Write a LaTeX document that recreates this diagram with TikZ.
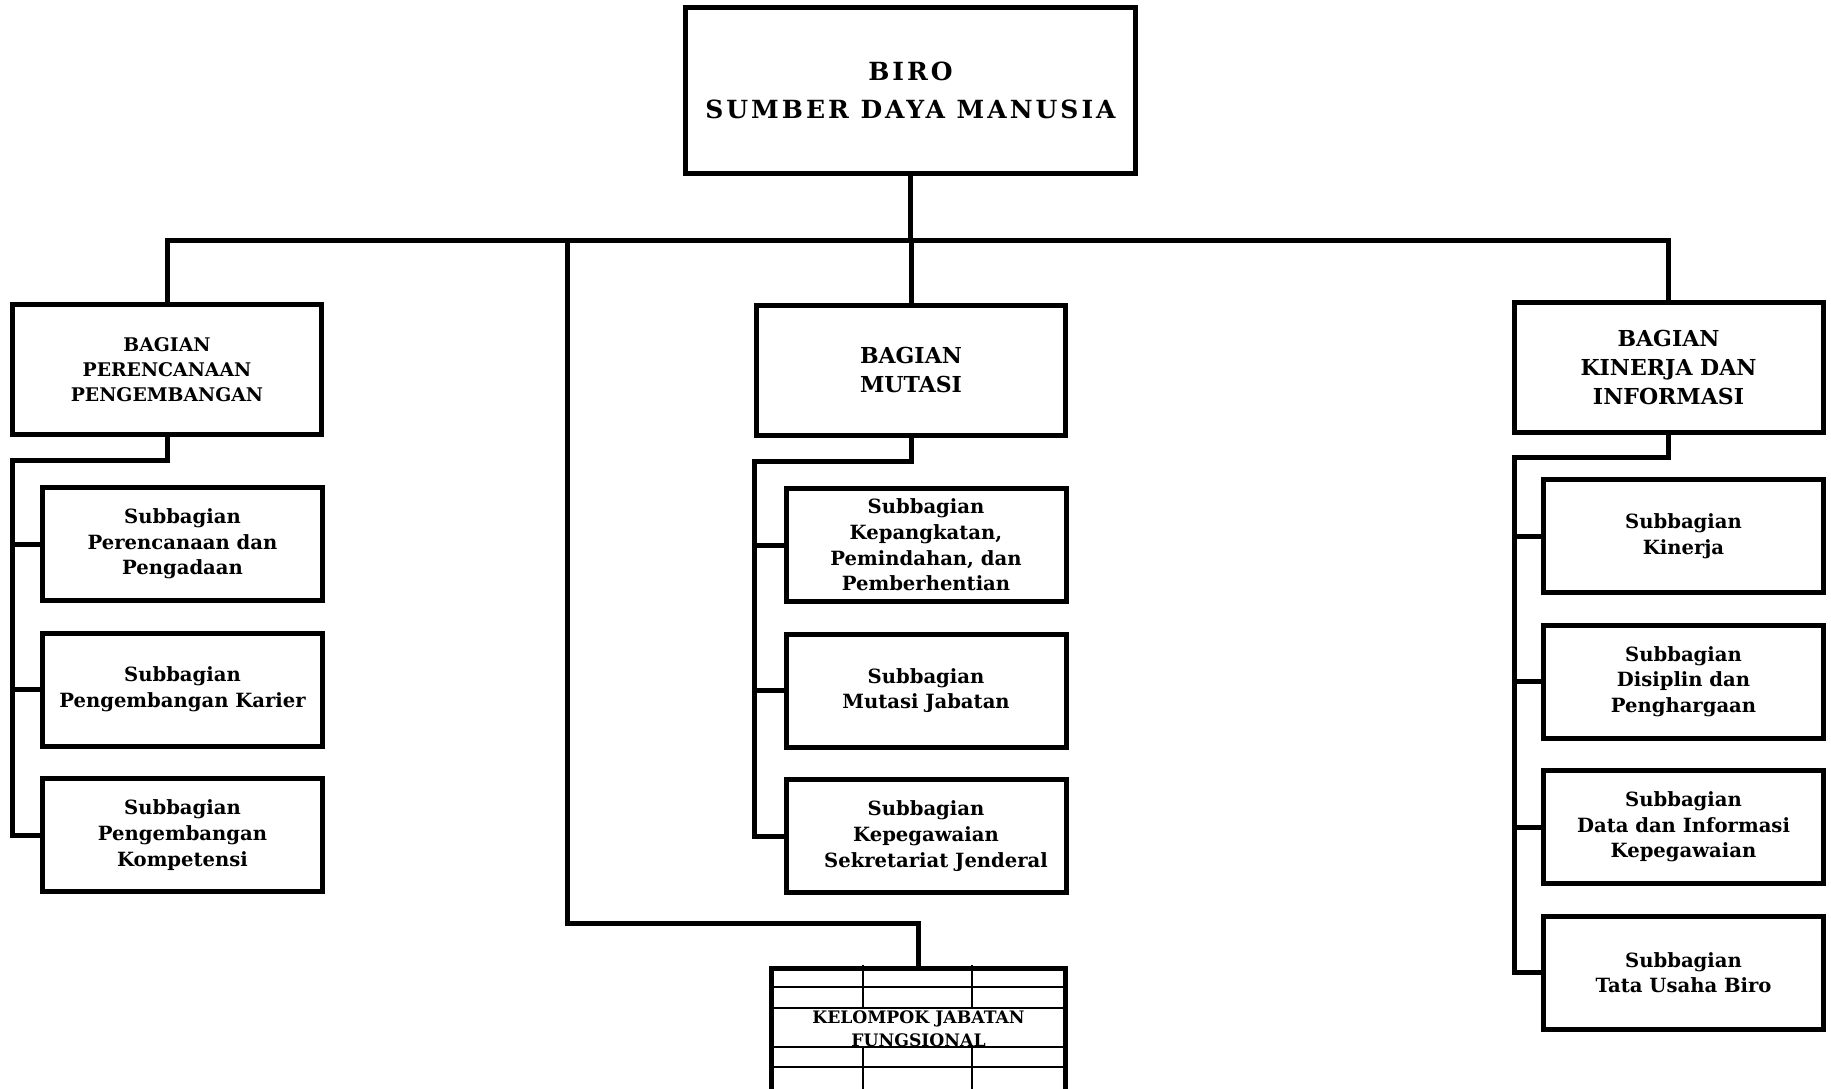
\documentclass[tikz,border=0pt]{standalone}
\usepackage{fontspec}
\setmainfont{DejaVu Serif}
\usetikzlibrary{positioning}

\begin{document}
\begin{tikzpicture}[
    x=0.5pt, y=-0.5pt,
    node distance=72.75pt,
    on grid,
    biro/.style={
        draw,
        line width=2.5pt,
        minimum width=225pt,
        minimum height=83pt,
        align=center,
        font=\bfseries\fontsize{12.5}{19}\selectfont\addfontfeatures{LetterSpace=12}
    },
    bagian/.style={
        draw,
        line width=2.5pt,
        minimum width=154.5pt,
        minimum height=65pt,
        align=center,
        font=\bfseries\fontsize{11}{14.5}\selectfont
    },
    bagiankecil/.style={
        bagian,
        font=\bfseries\fontsize{9.4}{12.5}\selectfont
    },
    subbag/.style={
        draw,
        line width=2.5pt,
        minimum width=140pt,
        minimum height=56.5pt,
        align=center,
        font=\bfseries\fontsize{9.8}{12.8}\selectfont
    },
    conn/.style={
        line width=2.5pt,
        line join=miter
    },
    garis/.style={
        line width=1pt
    }
    ]
    \useasboundingbox (0,0) rectangle (1831,1088);
    % Biro
    \node[biro] (biro) at (910.5,90.5) {BIRO\\SUMBER DAYA MANUSIA};
    % Bagian
    \node[bagiankecil] (pp) at (167,369.5) {BAGIAN\\PERENCANAAN\\PENGEMBANGAN};
    \node[bagian] (mt) at (911,370) {BAGIAN\\MUTASI};
    \node[bagian] (ki) at (1668.5,367.5) {BAGIAN\\KINERJA DAN\\INFORMASI};
    % Subbagian
    \node[subbag] (pp1) at (182.5,544) {Subbagian\\Perencanaan dan\\Pengadaan};
    \node[subbag] (pp2) [below=of pp1] {Subbagian\\Pengembangan Karier};
    \node[subbag] (pp3) [below=of pp2] {Subbagian\\Pengembangan\\Kompetensi};
    \node[subbag] (mt1) at (926,545) {Subbagian\\Kepangkatan,\\Pemindahan, dan\\Pemberhentian};
    \node[subbag] (mt2) [below=of mt1] {Subbagian\\Mutasi Jabatan};
    \node[subbag] (mt3) [below=of mt2] {Subbagian\\Kepegawaian\\\hspace*{10pt}Sekretariat Jenderal};
    \node[subbag] (ki1) at (1683.5,536) {Subbagian\\Kinerja};
    \node[subbag] (ki2) [below=of ki1] {Subbagian\\Disiplin dan\\Penghargaan};
    \node[subbag] (ki3) [below=of ki2] {Subbagian\\Data dan Informasi\\Kepegawaian};
    \node[subbag] (ki4) [below=of ki3] {Subbagian\\Tata Usaha Biro};
    % Kelompok jabatan fungsional
    \node[draw, line width=2.5pt, minimum width=147pt, minimum height=80pt, anchor=north] (jf) at (918.5,965.5) {};
    \foreach \yy in {987,1008,1047,1067}
        \draw[garis] (jf.west |- 0,\yy) -- (jf.east |- 0,\yy);
    \foreach \xx in {863,972} {
        \draw[garis] (\xx,965) -- (\xx,1008);
        \draw[garis] (\xx,1047) -- (\xx,1100);
    }
    \node[align=center, inner sep=0pt, font=\bfseries\fontsize{8.6}{11.7}\selectfont] (jftext) at (918.5,1028.5) {KELOMPOK JABATAN\\FUNGSIONAL};
    % Lines
    \coordinate (bus) at (910.5,240);
    \draw[conn] (biro.south) -- (bus);
    \draw[conn] (pp.north) -- (bus -| pp.north) -- (bus -| ki.north) -- (ki.north);
    \draw[conn] (bus -| mt.north) -- (mt.north);
    \coordinate (jfbend) at (567,923);
    \draw[conn] (bus -| jfbend) -- (jfbend) -| (jf.north);
    \coordinate (ppsp) at (12.5,460);
    \coordinate (mtsp) at (754.5,461.5);
    \coordinate (kisp) at (1514,457.5);
    \draw[conn] (pp.south) |- (ppsp) |- (pp3.west);
    \draw[conn] (mt.south) |- (mtsp) |- (mt3.west);
    \draw[conn] (ki.south) |- (kisp) |- (ki4.west);
    \foreach \s in {pp1,pp2}
        \draw[conn] (ppsp |- \s.west) -- (\s.west);
    \foreach \s in {mt1,mt2}
        \draw[conn] (mtsp |- \s.west) -- (\s.west);
    \foreach \s in {ki1,ki2,ki3}
        \draw[conn] (kisp |- \s.west) -- (\s.west);
\end{tikzpicture}
\end{document}
